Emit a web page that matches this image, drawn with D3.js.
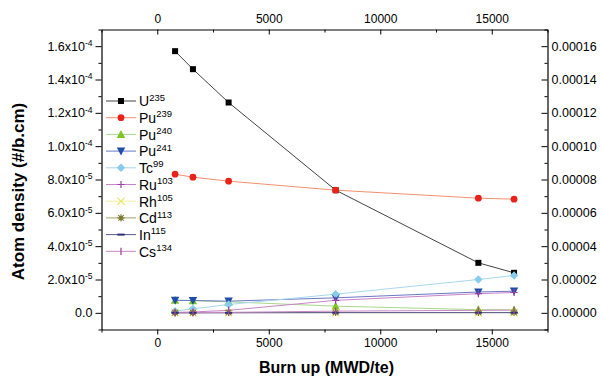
<!DOCTYPE html>
<html>
<head>
<meta charset="utf-8">
<script src="https://cdn.jsdelivr.net/npm/d3@7"></script>
<style>
  body { margin: 0; background: #fff; }
  text { font-family: Arial, "Liberation Sans", sans-serif; fill: #000; }
</style>
</head>
<body>
<div id="chart"></div>
<script>
// burn up steps (MWD/te)
const burnup = [800, 1600, 3200, 8000, 14400, 16000];

// atom densities (#/b.cm)
const u235  = [1.57e-4, 1.462e-4, 1.262e-4, 7.36e-5, 3.0e-5, 2.4e-5];
const pu239 = [8.32e-5, 8.14e-5, 7.9e-5, 7.36e-5, 6.88e-5, 6.82e-5];
const pu240 = [7.6e-6, 7.3e-6, 6.6e-6, 4.0e-6, 1.9e-6, 1.8e-6];
const pu241 = [7.5e-6, 7.4e-6, 7.0e-6, 9.0e-6, 1.25e-5, 1.3e-5];
const tc99  = [1.0e-6, 2.4e-6, 5.0e-6, 1.12e-5, 2.0e-5, 2.24e-5];
const ru103 = [3e-7, 5e-7, 1.5e-6, 7.5e-6, 1.15e-5, 1.22e-5];
const rh105 = [1e-7, 1e-7, 1e-7, 1e-7, 1e-7, 1e-7];
const cd113 = [1e-7, 1e-7, 2e-7, 2e-7, 2e-7, 2e-7];
const in115 = [0, 0, 0, 1e-7, 1e-7, 1e-7];
const cs134 = [0, 1e-7, 3e-7, 1.0e-6, 1.5e-6, 1.6e-6];

const names = ["U", "Pu", "Pu", "Pu", "Tc", "Ru", "Rh", "Cd", "In", "Cs"];
const masses = ["235", "239", "240", "241", "99", "103", "105", "113", "115", "134"];
const seriesValues = [u235, pu239, pu240, pu241, tc99, ru103, rh105, cd113, in115, cs134];

const leftTicks = [0, 2e-5, 4e-5, 6e-5, 8e-5, 1e-4, 1.2e-4, 1.4e-4, 1.6e-4];
const leftTickText = ["0.0", "2.0x10|-5", "4.0x10|-5", "6.0x10|-5", "8.0x10|-5",
                      "1.0x10|-4", "1.2x10|-4", "1.4x10|-4", "1.6x10|-4"];
const xTicks = [0, 5000, 10000, 15000];

const styles = [
  { marker: "square",  fill: "#000000", line: "#444444" },
  { marker: "circle",  fill: "#e8231c", line: "#f39070" },
  { marker: "triUp",   fill: "#7dc520", line: "#a8d88a" },
  { marker: "triDown", fill: "#1f4ea8", line: "#6a78c4" },
  { marker: "diamond", fill: "#86cbea", line: "#a6d8f0" },
  { marker: "plus",    fill: "#a040a8", line: "#c884cc" },
  { marker: "cross",   fill: "#e6e66a", line: "#eeee9c" },
  { marker: "star",    fill: "#7a7a30", line: "#a4a466" },
  { marker: "dash",    fill: "#303078", line: "#5a5a98" },
  { marker: "bar",     fill: "#a04898", line: "#c888c4" }
];

const width = 602, height = 377;
const plot = { left: 101.5, right: 547.5, top: 29.5, bottom: 329.5 };

const svg = d3.select("#chart").append("svg")
  .attr("width", width).attr("height", height);

/// SCALES
const x = d3.scaleLinear().domain([-2500, 17500]).range([plot.left, plot.right]);
const y = d3.scaleLinear().domain([-1e-5, 1.7e-4]).range([plot.bottom, plot.top]);

const minorX = d3.range(-2500, 17501, 2500);
const minorY = d3.range(-1e-5, 1.7e-4 + 1e-9, 1e-5);
const isMajorY = d => leftTicks.some(t => Math.abs(t - d) < 1e-9);

/// AXES
const fmtNone = () => "";

// bottom: ticks outward
const axBottom = svg.append("g").attr("transform", `translate(0,${plot.bottom})`);
axBottom.call(d3.axisBottom(x).tickValues(minorX).tickFormat(fmtNone).tickSize(3).tickSizeOuter(0));
axBottom.selectAll(".tick").filter(d => xTicks.includes(d)).select("line").attr("y2", 5);
axBottom.selectAll(".tick").filter(d => xTicks.includes(d)).select("text")
  .text(d => d).attr("y", 9).attr("font-size", 12);

// top: ticks inward
const axTop = svg.append("g").attr("transform", `translate(0,${plot.top})`);
axTop.call(d3.axisTop(x).tickValues(minorX).tickFormat(fmtNone).tickSize(-3).tickSizeOuter(0));
axTop.selectAll(".tick").filter(d => xTicks.includes(d)).select("line").attr("y2", 5);
axTop.selectAll(".tick").filter(d => xTicks.includes(d)).select("text")
  .text(d => d).attr("y", -7).attr("font-size", 12);

// left: ticks outward
const axLeft = svg.append("g").attr("transform", `translate(${plot.left},0)`);
axLeft.call(d3.axisLeft(y).tickValues(minorY).tickFormat(fmtNone).tickSize(3).tickSizeOuter(0));
axLeft.selectAll(".tick").filter(isMajorY).select("line").attr("x2", -6);
leftTicks.forEach((t, i) => {
  const parts = leftTickText[i].split("|");
  const tx = svg.append("text")
    .attr("x", plot.left - 9).attr("y", y(t)).attr("dy", "0.35em")
    .attr("text-anchor", "end").attr("font-size", 12.5);
  tx.append("tspan").text(parts[0]);
  if (parts[1]) {
    tx.append("tspan").attr("font-size", 8.5).attr("dy", "-0.55em").text(parts[1]);
  }
});

// right: ticks inward
const axRight = svg.append("g").attr("transform", `translate(${plot.right},0)`);
axRight.call(d3.axisRight(y).tickValues(minorY).tickFormat(fmtNone).tickSize(-3).tickSizeOuter(0));
axRight.selectAll(".tick").filter(isMajorY).select("line").attr("x2", -6);
leftTicks.forEach(t => {
  svg.append("text")
    .attr("x", plot.right + 4).attr("y", y(t)).attr("dy", "0.35em")
    .attr("font-size", 12.5).text(t.toFixed(5));
});

svg.selectAll(".domain").attr("stroke", "#000").attr("stroke-width", 1.2);
svg.selectAll(".tick line").attr("stroke", "#000");

/// AXIS TITLES
svg.append("text")
  .attr("x", (plot.left + plot.right) / 2 + 2).attr("y", 373)
  .attr("text-anchor", "middle").attr("font-size", 16).attr("font-weight", "bold")
  .text("Burn up (MWD/te)");

svg.append("text")
  .attr("transform", `translate(24,${(plot.top + plot.bottom) / 2 + 12}) rotate(-90)`)
  .attr("text-anchor", "middle").attr("font-size", 17).attr("font-weight", "bold")
  .text("Atom density (#/b.cm)");

/// MARKERS
function drawMarker(g, kind, color) {
  const s = 3.6;
  switch (kind) {
    case "square":
      g.append("rect").attr("x", -3).attr("y", -3).attr("width", 6).attr("height", 6).attr("fill", color); break;
    case "circle":
      g.append("circle").attr("r", 3.4).attr("fill", color); break;
    case "triUp":
      g.append("path").attr("d", `M0,${-s - 0.8}L${s + 0.6},${s}L${-s - 0.6},${s}Z`).attr("fill", color); break;
    case "triDown":
      g.append("path").attr("d", `M0,${s + 0.8}L${s + 0.6},${-s}L${-s - 0.6},${-s}Z`).attr("fill", color); break;
    case "diamond":
      g.append("path").attr("d", `M0,${-s - 0.6}L${s + 0.6},0L0,${s + 0.6}L${-s - 0.6},0Z`).attr("fill", color); break;
    case "plus":
      g.append("path").attr("d", `M${-s},0H${s}M0,${-s}V${s}`).attr("stroke", color).attr("stroke-width", 1.2); break;
    case "cross":
      g.append("path").attr("d", `M${-s},${-s}L${s},${s}M${s},${-s}L${-s},${s}`).attr("stroke", color).attr("stroke-width", 1.2); break;
    case "star":
      g.append("path").attr("d", `M${-s},0H${s}M0,${-s}V${s}M${-s * 0.75},${-s * 0.75}L${s * 0.75},${s * 0.75}M${s * 0.75},${-s * 0.75}L${-s * 0.75},${s * 0.75}`)
        .attr("stroke", color).attr("stroke-width", 1.2); break;
    case "dash":
      g.append("path").attr("d", `M${-s},0H${s}`).attr("stroke", color).attr("stroke-width", 2); break;
    case "bar":
      g.append("path").attr("d", `M0,${-s}V${s}`).attr("stroke", color).attr("stroke-width", 1.3); break;
  }
}

/// SERIES
const line = d3.line().x((d, i) => x(burnup[i])).y(d => y(d));

seriesValues.forEach((vals, k) => {
  svg.append("path")
    .attr("d", line(vals))
    .attr("fill", "none")
    .attr("stroke", styles[k].line)
    .attr("stroke-width", 1);
});
seriesValues.forEach((vals, k) => {
  const g = svg.append("g");
  vals.forEach((v, i) => {
    drawMarker(g.append("g").attr("transform", `translate(${x(burnup[i])},${y(v)})`),
      styles[k].marker, styles[k].fill);
  });
});

/// LEGEND
const legend = svg.append("g").attr("transform", "translate(106,101)");
names.forEach((n, k) => {
  const row = legend.append("g").attr("transform", `translate(0,${k * 16.7})`);
  row.append("line").attr("x1", 0).attr("x2", 30).attr("y1", 0).attr("y2", 0)
    .attr("stroke", styles[k].line).attr("stroke-width", 1);
  drawMarker(row.append("g").attr("transform", "translate(15,0)"), styles[k].marker, styles[k].fill);
  const t = row.append("text").attr("x", 33).attr("y", 0).attr("dy", "0.38em").attr("font-size", 14);
  t.append("tspan").text(n);
  t.append("tspan").attr("font-size", 9.5).attr("dy", "-0.6em").text(masses[k]);
});
</script>
</body>
</html>
